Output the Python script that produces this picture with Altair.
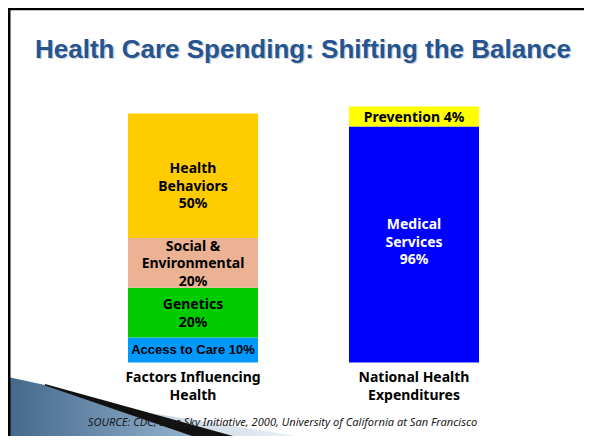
import altair as alt
import pandas as pd

# ---------------- data ----------------
title_text = "Health Care Spending: Shifting the Balance"
source_text = "SOURCE: CDC, Blue Sky Initiative, 2000, University of California at San Francisco"

categories = ["Factors Influencing Health", "National Health Expenditures"]
category_labels = ["Factors Influencing\nHealth", "National Health\nExpenditures"]

seg_category = [0, 0, 0, 0, 1, 1]
seg_name = ["Access to Care", "Genetics", "Social &\nEnvironmental", "Health\nBehaviors",
            "Medical\nServices", "Prevention"]
seg_pct = [10, 20, 20, 50, 96, 4]            # printed percentages
seg_extent = [10, 20, 20, 50, 94.8, 8.0]     # drawn segment heights

one_line = {"Access to Care", "Prevention"}

# ---------------- styles ----------------
seg_colors = ["#0099FF", "#00CC00", "#EBB294", "#FFCC00", "#0000FF", "#FFFF00"]
W, H = 576, 428
LH = 17.5                      # line height of segment labels (px)
PX_PER_UNIT = 249.0 / 100.0    # y scale: pixels per percentage point

rows = []
for i, (c, n, p, e) in enumerate(zip(seg_category, seg_name, seg_pct, seg_extent)):
    lab = n + (" " if n in one_line else "\n") + f"{p}%"
    rows.append({"cat": categories[c], "name": n, "pct": p, "extent": e, "idx": i,
                 "label": lab, "nlines": lab.count("\n") + 1})
df = pd.DataFrame(rows)

xenc = alt.X("cat:N", scale=alt.Scale(domain=categories, range=[120, 471],
                                      paddingInner=0.4118, paddingOuter=0), axis=None)
yscale = alt.Scale(domain=[0, 100], range=[354.5, 105.5], nice=False, zero=False)

base = (alt.Chart(df)
        .transform_stack(stack="extent", groupby=["cat"], as_=["y0", "y1"],
                         sort=[alt.SortField("idx", order="ascending")])
        .transform_calculate(
            mid="(datum.y0 + datum.y1) / 2",
            ytxt=f"(datum.y0 + datum.y1) / 2 + (datum.nlines - 1) * {LH} / 2 / {PX_PER_UNIT}"))

bars = base.mark_bar(strokeWidth=0).encode(
    x=xenc,
    y=alt.Y("y0:Q", scale=yscale, axis=None),
    y2="y1:Q",
    color=alt.Color("name:N", scale=alt.Scale(domain=seg_name, range=seg_colors), legend=None),
)

def seg_text(filter_expr, dy, color, font="Noto Sans", size=14, yfield="ytxt:Q"):
    return base.transform_filter(filter_expr).mark_text(
        font=font, fontWeight="bold", fontSize=size, lineBreak="\n", lineHeight=LH,
        baseline="middle", align="center", dy=dy, color=color).encode(
        x=xenc, y=alt.Y(yfield, scale=yscale, axis=None), text="label:N")

t_main = seg_text("indexof(datum.name, 'Genetics') >= 0 || indexof(datum.name, 'Social') >= 0 "
                  "|| indexof(datum.name, 'Prevention') >= 0", 1.5, "black")
t_beh = seg_text("indexof(datum.name, 'Behaviors') >= 0", 11, "black")
t_med = seg_text("indexof(datum.name, 'Medical') >= 0", -1.5, "white")
t_acc = seg_text("indexof(datum.name, 'Access') >= 0", 0, "black",
                 font="Liberation Sans", size=13, yfield="mid:Q")

cat_df = pd.DataFrame({"cat": categories, "label": category_labels})
cat_text = alt.Chart(cat_df).mark_text(
    font="Noto Sans", fontWeight="bold", fontSize=14, lineBreak="\n", lineHeight=18,
    baseline="middle", align="center", color="black").encode(
    x=xenc, y=alt.value(370), text="label:N")

one = alt.Data(values=[{}])

title_shadow = alt.Chart(one).mark_text(
    text=title_text, font="Liberation Sans", fontWeight="bold", fontSize=26,
    align="center", baseline="alphabetic", color="#CDD2DA").encode(
    x=alt.value(296.3), y=alt.value(51.3))
title = alt.Chart(one).mark_text(
    text=title_text, font="Liberation Sans", fontWeight="bold", fontSize=26,
    align="center", baseline="alphabetic", color="#26548F").encode(
    x=alt.value(295), y=alt.value(50))

source = alt.Chart(one).mark_text(
    text=source_text, font="Noto Sans", fontStyle="italic", fontSize=11.1,
    align="center", baseline="middle", color="#1A1A1A").encode(
    x=alt.value(274.5), y=alt.value(415))

def deco(path, fill):
    return alt.Chart(one).mark_point(shape=path, size=4, filled=True, fill=fill,
                                     strokeWidth=0, opacity=1).encode(
        x=alt.value(0), y=alt.value(0))

lattice = deco("M142,405 L340,436 L254,436 Z",
               alt.Gradient(gradient="linear",
                            stops=[alt.GradientStop(offset=0, color="#C6D6E6"),
                                   alt.GradientStop(offset=1, color="#F4F7FA")],
                            x1=0, x2=1, y1=0, y2=0))
blue = deco("M0,369 L37,377 L207,436 L0,436 Z",
            alt.Gradient(gradient="linear",
                         stops=[alt.GradientStop(offset=0, color="#45688A"),
                                alt.GradientStop(offset=1, color="#9CBAD6")],
                         x1=0, x2=1, y1=0, y2=0))
black = deco("M37,376 L254,436 L207,436 L37,377.5 Z", "#111111")

border_left = alt.Chart(one).mark_rule(color="black", strokeWidth=3).encode(
    x=alt.value(1), y=alt.value(0), y2=alt.value(H))
border_top = alt.Chart(one).mark_rule(color="black", strokeWidth=2.5).encode(
    y=alt.value(1), x=alt.value(0), x2=alt.value(W))

chart = alt.layer(
    bars, t_main, t_beh, t_med, t_acc, cat_text, title_shadow, title,
    lattice, blue, black, source, border_left, border_top
).properties(
    width=W, height=H, padding=0, autosize=alt.AutoSizeParams(type="none"),
    background="white"
).configure_view(stroke=None)

chart.save("out.html", embed_options={"renderer": "svg", "actions": False})
